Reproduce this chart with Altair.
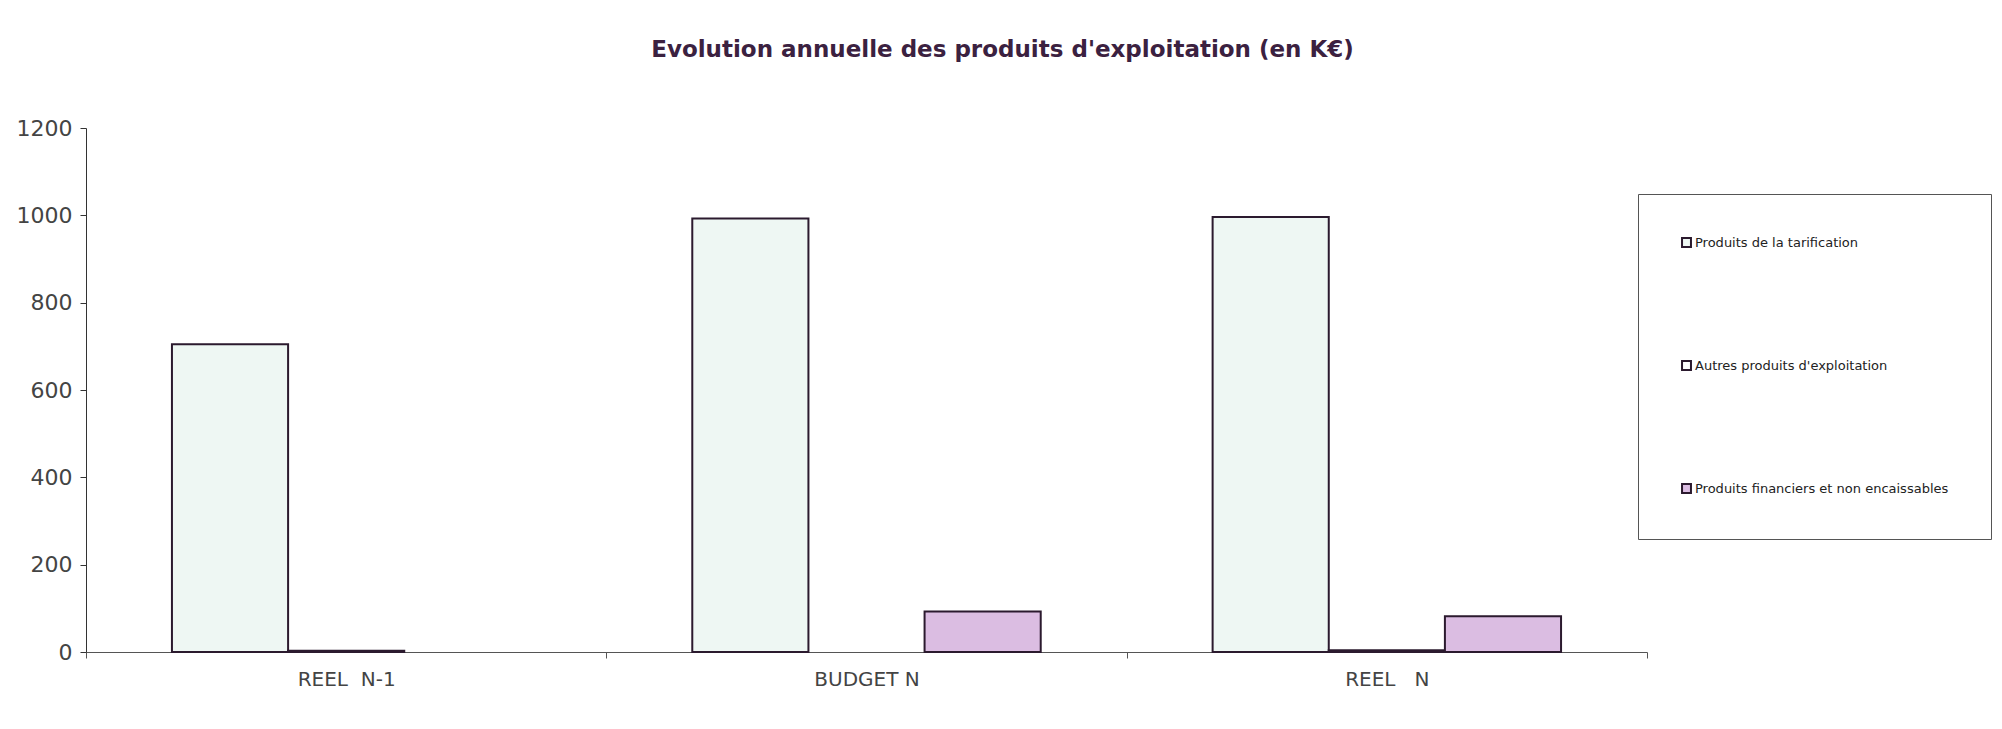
import altair as alt
import pandas as pd

categories = ["REEL\u00a0\u00a0N-1", "BUDGET N", "REEL\u00a0\u00a0\u00a0N"]
series = ["Produits de la tarification", "Autres produits d'exploitation", "Produits financiers et non encaissables"]
tarification = [705, 993, 996]
autres = [3, 0, 4]
financiers = [0, 93, 82]
colors = ["#EEF7F3", "#FFFFFF", "#DBBDE2"]

rows = []
for i, c in enumerate(categories):
    for s, vals in zip(series, [tarification, autres, financiers]):
        rows.append({"categorie": c, "serie": s, "valeur": vals[i]})
df = pd.DataFrame(rows)

FONT = "DejaVu Sans"

chart = alt.Chart(df).transform_filter(
    alt.datum.valeur > 0
).mark_bar(stroke="#2b1a2e", strokeWidth=2).encode(
    x=alt.X("categorie:N", sort=categories, title=None,
            scale=alt.Scale(paddingInner=0, paddingOuter=0),
            axis=alt.Axis(labelAngle=0, tickBand="extent", tickSize=6,
                          domainColor="#555555", tickColor="#555555",
                          labelFont=FONT, labelFontSize=20, labelColor="#444444",
                          labelPadding=11)),
    xOffset=alt.XOffset("serie:N", sort=series,
                        scale=alt.Scale(domain=series, paddingInner=0, paddingOuter=0.74)),
    y=alt.Y("valeur:Q", title=None,
            scale=alt.Scale(domain=[0, 1200]),
            axis=alt.Axis(values=[0, 200, 400, 600, 800, 1000, 1200], grid=False, format="d",
                          tickSize=6, domainColor="#333333", tickColor="#333333",
                          labelFont=FONT, labelFontSize=22, labelColor="#444444",
                          labelPadding=8)),
    color=alt.Color("serie:N", sort=series, title=None,
                    scale=alt.Scale(domain=series, range=colors),
                    legend=alt.Legend(orient="none", legendX=1552, legendY=66,
                                      symbolType="square", symbolSize=80,
                                      symbolStrokeColor="#2b1a2e", symbolStrokeWidth=2,
                                      labelFont=FONT, labelFontSize=13, labelColor="#222222",
                                      labelLimit=256,
                                      rowPadding=106, padding=42,
                                      strokeColor="#555555", labelOffset=2)),
).properties(
    width=1561,
    height=524,
    title=alt.TitleParams("Evolution annuelle des produits d'exploitation (en K€)",
                          font=FONT, fontSize=23, fontWeight="bold", color="#3b2140",
                          anchor="middle", dx=136, offset=55),
    autosize=alt.AutoSizeParams(type="none"),
    padding={"left": 78, "top": 120, "right": 347, "bottom": 69},
).configure_view(stroke=None)

chart.save("out.html", embed_options={"renderer": "svg", "actions": False})
